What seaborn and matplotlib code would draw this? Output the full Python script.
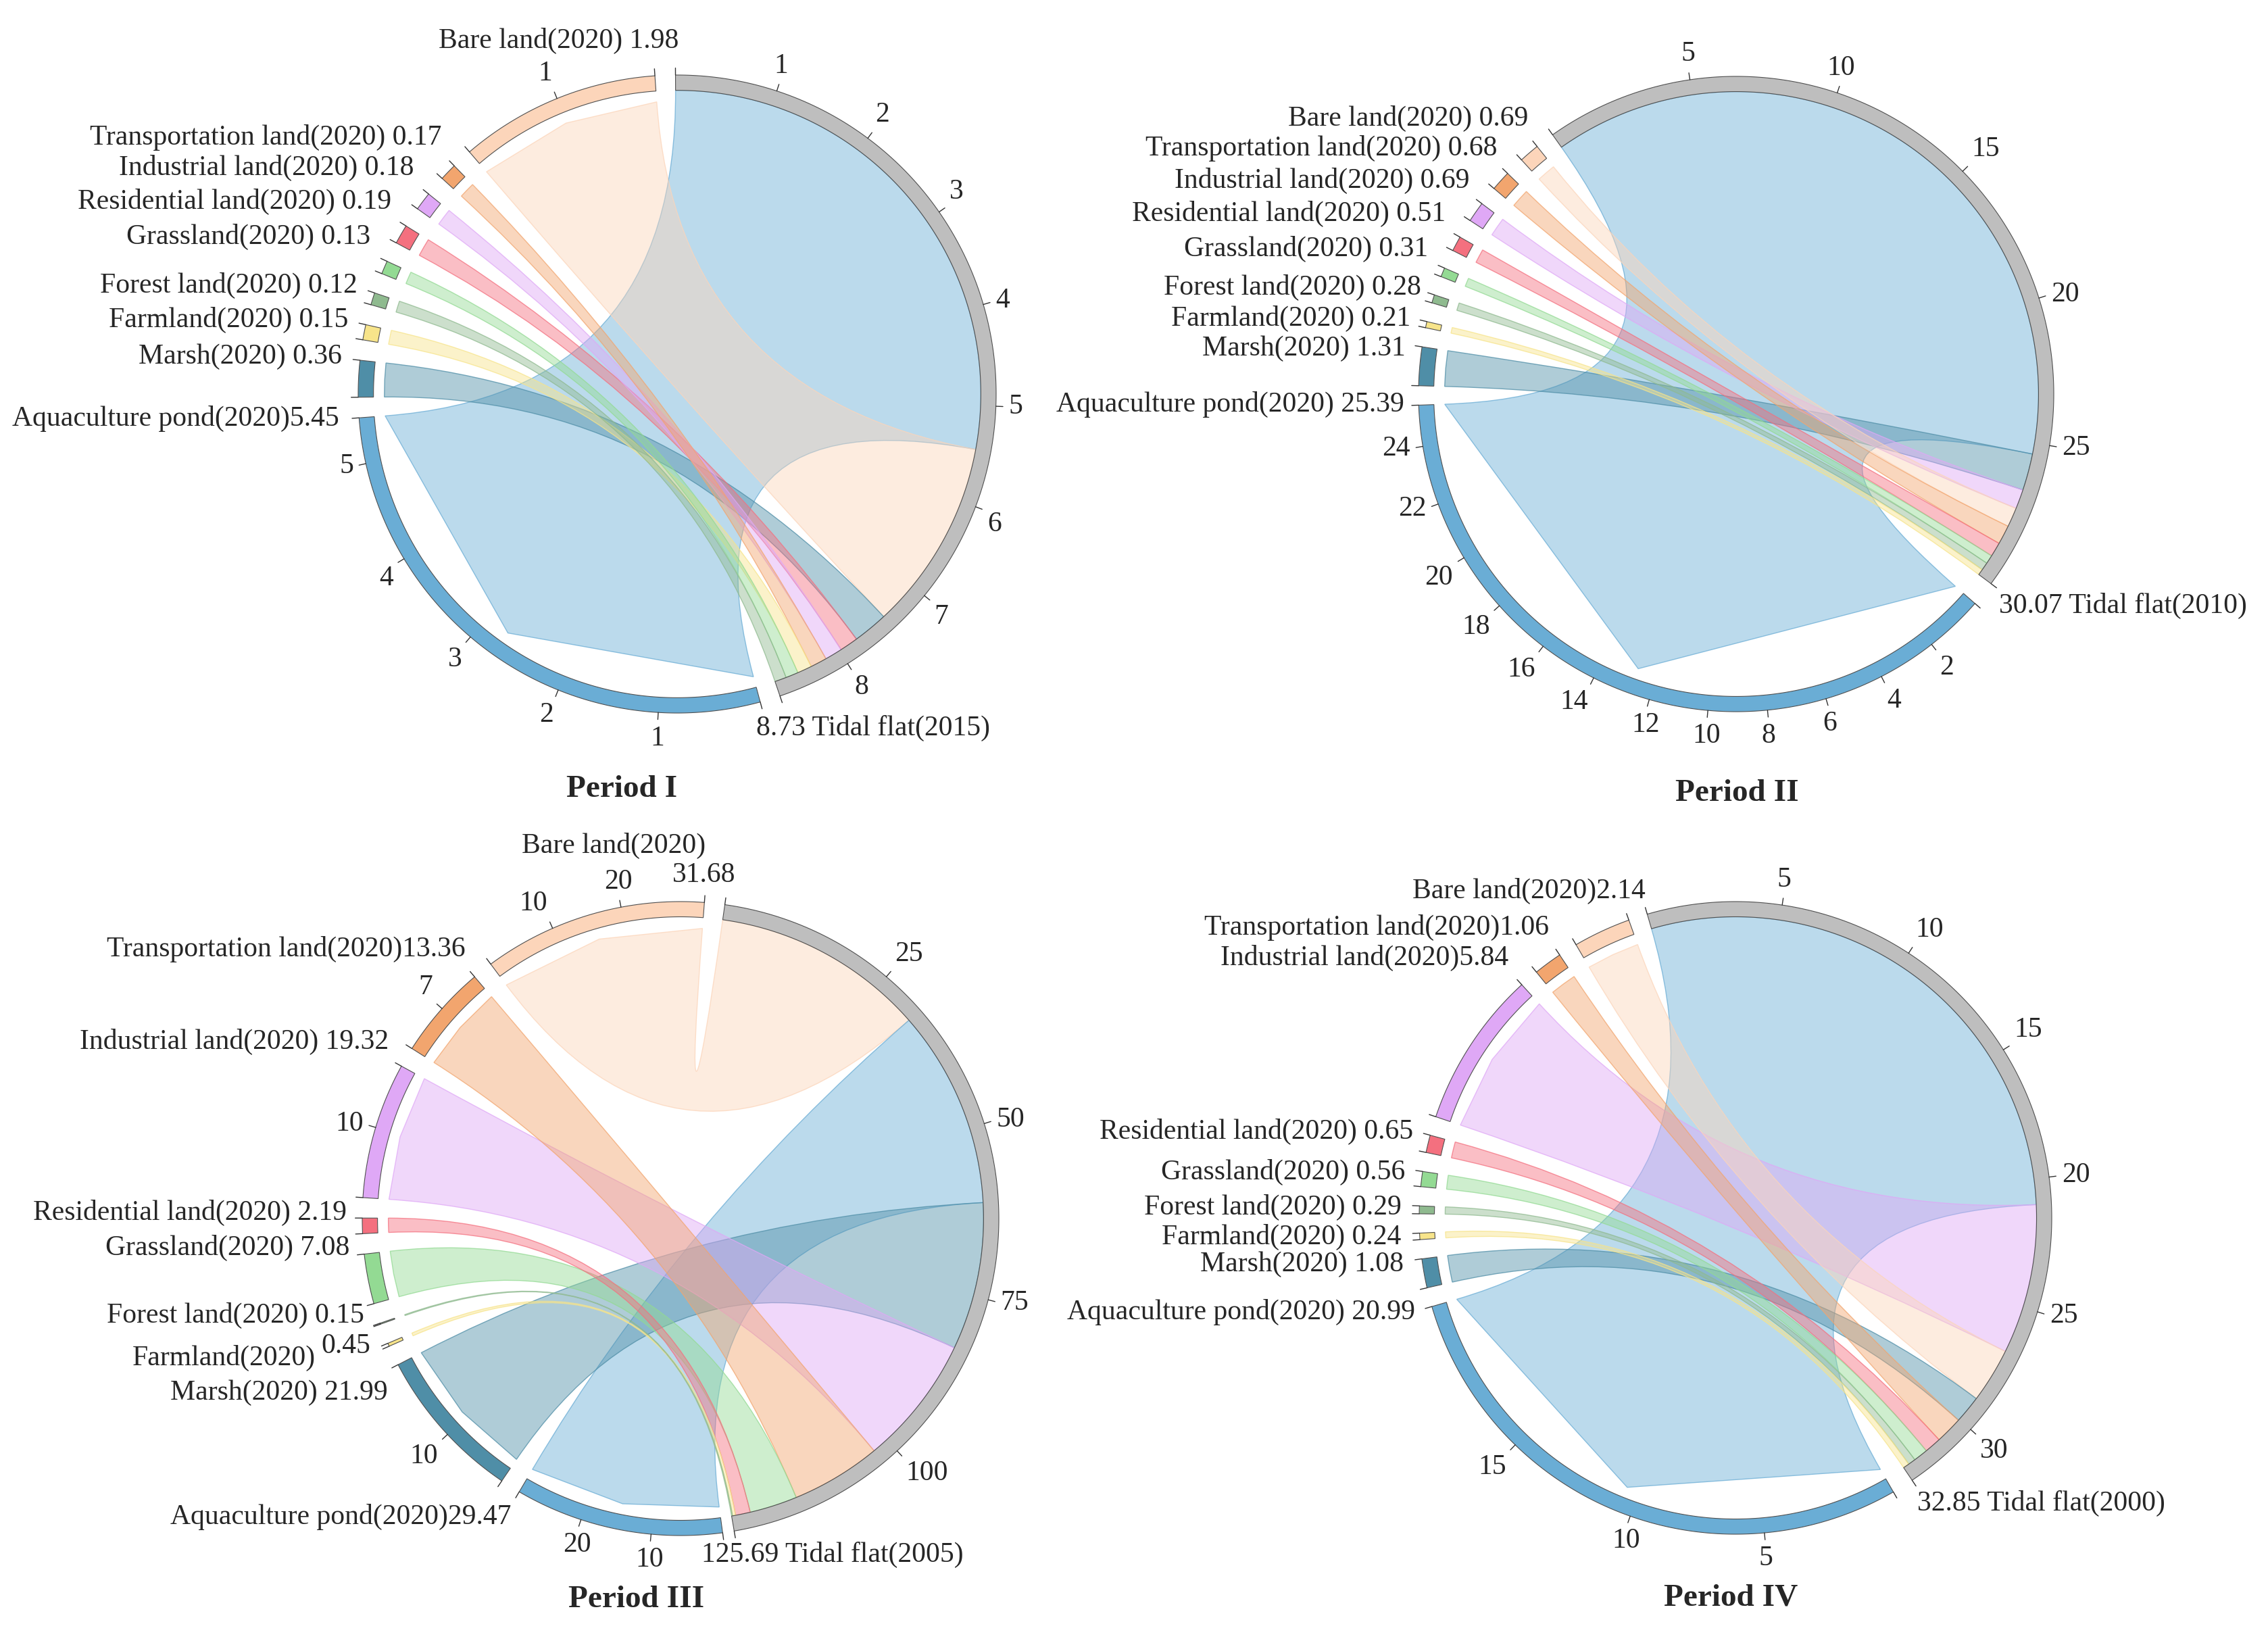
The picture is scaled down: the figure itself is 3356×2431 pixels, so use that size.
import numpy as np
import matplotlib
matplotlib.use("Agg")
import matplotlib.pyplot as plt
from matplotlib.path import Path
from matplotlib.patches import PathPatch, Polygon
import seaborn as sns

sns.set_theme(style="white")
plt.rcParams["font.family"] = ["Liberation Serif", "DejaVu Serif"]

W, H = 3356, 2431

# land-use classes in 2020, clockwise after the tidal flat sector
classes = ["Aquaculture pond", "Marsh", "Farmland", "Forest land", "Grassland",
           "Residential land", "Industrial land", "Transportation land", "Bare land"]
class_colors = sns.color_palette(["#6aadd5", "#4f8ea7", "#f7e48a", "#8fba8f", "#93da93",
                                  "#f4707f", "#dfa8f6", "#f2a56e", "#fcd5ba"])
tidal_color = "#bebebe"

periods = ["Period I", "Period II", "Period III", "Period IV"]
tidal_years = ["2015", "2010", "2005", "2000"]

# area converted from tidal flat to each class (same order as classes)
flow_p1 = [5.45, 0.36, 0.15, 0.12, 0.13, 0.19, 0.18, 0.17, 1.98]
flow_p2 = [25.39, 1.31, 0.21, 0.28, 0.31, 0.51, 0.69, 0.68, 0.69]
flow_p3 = [29.47, 21.99, 0.45, 0.15, 7.08, 2.19, 19.32, 13.36, 31.68]
flow_p4 = [20.99, 1.08, 0.24, 0.29, 0.56, 0.65, 5.84, 1.06, 2.14]
flows = [flow_p1, flow_p2, flow_p3, flow_p4]

# axis tick labels
tidal_ticks = [[1, 2, 3, 4, 5, 6, 7, 8],
               [5, 10, 15, 20, 25],
               [25, 50, 75, 100],
               [5, 10, 15, 20, 25, 30]]
class_ticks = [{"Aquaculture pond": [1, 2, 3, 4, 5], "Bare land": [1]},
               {"Aquaculture pond": [2, 4, 6, 8, 10, 12, 14, 16, 18, 20, 22, 24]},
               {"Aquaculture pond": [10, 20], "Marsh": [10], "Industrial land": [10],
                "Transportation land": [7], "Bare land": [10, 20]},
               {"Aquaculture pond": [5, 10, 15]}]

# panel geometry (pixels / degrees)
layout = [dict(cx=1002, cy=583, rx=472, ry=472, start=90.3, gap=3.7, gap_bottom=3.7, title=(920, 1168)),
          dict(cx=2569, cy=583, rx=470, ry=470, start=125.3, gap=3.5, gap_bottom=4.6, title=(2570, 1174)),
          dict(cx=1007, cy=1803, rx=471, ry=469, start=82.0, gap=3.7, gap_bottom=2.1, title=(942, 2367)),
          dict(cx=2568, cy=1802, rx=468, ry=468, start=106.2, gap=3.5, gap_bottom=4.0, title=(2561, 2365))]

# manual nudges of the sector labels (pixels)
label_shift = [
    {"Transportation land": (-4, -27), "Industrial land": (-5, -25), "Residential land": (-4, -25),
     "Grassland": (-5, -27), "Forest land": (-5, -4), "Farmland": (-5, -2), "Marsh": (-6, -3),
     "Aquaculture pond": (-8, 0), "Bare land": (37, -30), "tidal": (-43, 6)},
    {"Bare land": (0, -25), "Transportation land": (0, -22), "Industrial land": (-1, -21),
     "Residential land": (-3, -24), "Grassland": (-5, -20), "Forest land": (0, -4),
     "Farmland": (-4, 0), "Marsh": (-4, 6), "Aquaculture pond": (0, -2), "tidal": (-7, -1)},
    {"Transportation land": (0, -25), "Industrial land": (0, -26), "Residential land": (-2, -8),
     "Grassland": (-1, -11), "Forest land": (-4, -18), "Farmland": (-6, -4), "Marsh": (4, 32),
     "Aquaculture pond": (-1, 19), "Bare land": (-2, -20), "tidal": (-52, -7)},
    {"Bare land": (32, -23), "Transportation land": (-4, -23), "Industrial land": (-5, -24),
     "Residential land": (-5, 0), "Grassland": (-5, 4), "Forest land": (-5, 3), "Farmland": (-6, 5),
     "Marsh": (-6, 5), "Aquaculture pond": (-5, 2), "tidal": (-5, -5)},
]
no_space = [["Aquaculture pond"], [], ["Transportation land", "Aquaculture pond"],
            ["Bare land", "Transportation land", "Industrial land"]]

R_IN = 0.952
R_SRC = 0.952
R_DST = 0.918
FS = 30


def pt(lay, ang, r):
    a = np.radians(ang)
    return (lay["cx"] + lay["rx"] * r * np.cos(a), lay["cy"] - lay["ry"] * r * np.sin(a))


def arc(lay, a0, a1, r):
    n = max(2, int(abs(a1 - a0) * 3) + 2)
    return [pt(lay, a, r) for a in np.linspace(a0, a1, n)]


def tick_text(ax, lay, ang, txt):
    c, s = np.cos(np.radians(ang)), np.sin(np.radians(ang))
    x, y = pt(lay, ang, 1.04)
    ha = "left" if c > 0.35 else ("right" if c < -0.35 else "center")
    va = "bottom" if s > 0.35 else ("top" if s < -0.35 else "center")
    ax.text(x, y, txt, ha=ha, va=va, fontsize=FS, zorder=5)


fig = plt.figure(figsize=(W / 100, H / 100), dpi=100)
ax = fig.add_axes([0, 0, 1, 1])
ax.set_xlim(0, W)
ax.set_ylim(H, 0)
ax.axis("off")

for k, lay in enumerate(layout):
    vals = flows[k]
    total = sum(vals)
    dpu = (360 - 9 * lay["gap"] - lay["gap_bottom"]) / (2 * total)
    sectors = {}
    a = lay["start"]
    sectors["tidal"] = (a, a - total * dpu)
    a = a - total * dpu - lay["gap_bottom"]
    for name, v in zip(classes, vals):
        sectors[name] = (a, a - v * dpu)
        a = a - v * dpu - lay["gap"]
    center = (lay["cx"], lay["cy"])

    # chords, largest first; stacked on the tidal flat in decreasing order
    order = sorted(range(len(classes)), key=lambda i: -vals[i])
    cum = 0.0
    for i in order:
        g0 = sectors["tidal"][0] - cum * dpu
        g1 = g0 - vals[i] * dpu
        cum += vals[i]
        d0, d1 = sectors[classes[i]]
        src = arc(lay, g0, g1, R_SRC)
        verts = list(src)
        codes = [Path.MOVETO] + [Path.LINETO] * (len(src) - 1)
        verts += [center, pt(lay, d0, R_DST)]
        codes += [Path.CURVE3, Path.CURVE3]
        verts += [pt(lay, (d0 + d1) / 2, R_DST), pt(lay, d1, R_DST)]
        codes += [Path.LINETO, Path.LINETO]
        verts += [center, pt(lay, g0, R_SRC), pt(lay, g0, R_SRC)]
        codes += [Path.CURVE3, Path.CURVE3, Path.CLOSEPOLY]
        col = class_colors[i]
        ax.add_patch(PathPatch(Path(verts, codes), facecolor=(*col, 0.45),
                               edgecolor=(*col, 0.75), lw=1.0, zorder=2))

    # outer ring
    ring_cols = {"tidal": tidal_color} | dict(zip(classes, class_colors))
    for name, (a0, a1) in sectors.items():
        poly = arc(lay, a0, a1, 1.0) + arc(lay, a1, a0, R_IN)
        ax.add_patch(Polygon(poly, closed=True, facecolor=ring_cols[name],
                             edgecolor="#505050", lw=0.8, zorder=3))

    # ticks
    tick_sets = {"tidal": tidal_ticks[k]} | class_ticks[k]
    for name, (a0, a1) in sectors.items():
        val = total if name == "tidal" else vals[classes.index(name)]
        for t in [0.0, val] + list(tick_sets.get(name, [])):
            ang = a0 - t * dpu
            p0, p1 = pt(lay, ang, 1.0), pt(lay, ang, 1.022)
            ax.plot([p0[0], p1[0]], [p0[1], p1[1]], color="#333333", lw=1.0, zorder=4)
        for t in tick_sets.get(name, []):
            tick_text(ax, lay, a0 - t * dpu, str(t))

    # sector labels
    shifts = label_shift[k]
    for name, v in zip(classes, vals):
        x, y = pt(lay, sectors[name][1], 1.045)
        dx, dy = shifts.get(name, (0, 0))
        sep = "" if name in no_space[k] else " "
        if k == 2 and name == "Bare land":
            ax.text(x, y - 63, f"{name}(2020)", ha="right", va="center", fontsize=FS)
            ax.text(x + dx, y + dy, f"{v:.2f}", ha="center", va="center", fontsize=FS)
        elif k == 2 and name == "Farmland":
            ax.text(x + dx, y + dy, f"{v:.2f}", ha="right", va="center", fontsize=FS)
            ax.text(x - 88, y + 14, f"{name}(2020)", ha="right", va="center", fontsize=FS)
        else:
            ax.text(x + dx, y + dy, f"{name}(2020){sep}{v:.2f}", ha="right", va="center", fontsize=FS)
    x, y = pt(lay, sectors["tidal"][1], 1.05)
    dx, dy = shifts["tidal"]
    ax.text(x + dx, y + dy, f"{total:.2f} Tidal flat({tidal_years[k]})", ha="left", va="top", fontsize=FS)

    tx, ty = lay["title"]
    ax.text(tx, ty, periods[k], ha="center", va="center", fontsize=34, fontweight="bold")

fig.savefig("out.png", dpi=100, facecolor="white")
